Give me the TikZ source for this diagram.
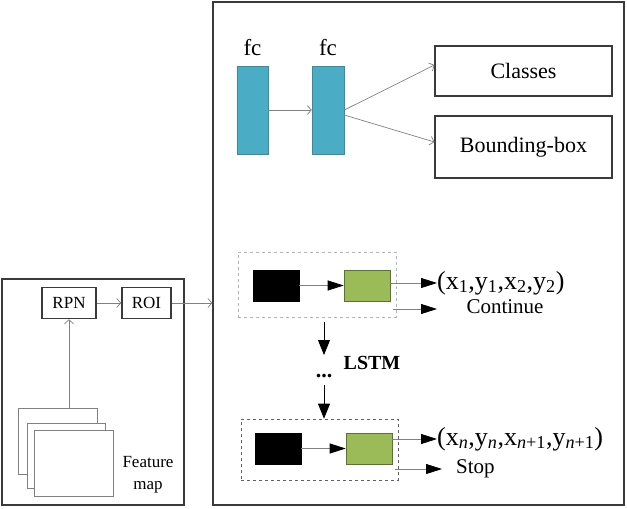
\documentclass[tikz,border=0pt]{standalone}
\usepackage{fontspec}
\setmainfont{Liberation Serif}
\usetikzlibrary{arrows.meta}
\definecolor{fcblue}{HTML}{4BACC6}
\definecolor{lgreen}{HTML}{9BBB59}
\definecolor{lin}{HTML}{808080}
\definecolor{frame}{HTML}{3A3A3A}
\begin{document}
\begin{tikzpicture}[x=1pt,y=-1pt,
  bigframe/.style={draw=frame, line width=1.3pt, inner sep=0pt},
  smallbox/.style={draw=frame, line width=1.6pt, inner sep=0pt, font=\fontsize{17}{19}\selectfont},
  outbox/.style={draw=frame, line width=1.1pt, inner sep=0pt, font=\fontsize{22}{24}\selectfont},
  sheet/.style={draw=lin, fill=white, line width=0.8pt, inner sep=0pt},
  fcbar/.style={draw=fcblue!80!black, fill=fcblue, line width=0.5pt, inner sep=0pt, minimum width=31pt, minimum height=88pt},
  blk/.style={fill=black, draw=black, inner sep=0pt, minimum width=46pt, minimum height=31pt},
  grn/.style={fill=lgreen, draw=lgreen!60!black, line width=0.6pt, inner sep=0pt, minimum width=46pt, minimum height=31pt},
  thinarrow/.style={draw=lin, line width=0.7pt, -{Straight Barb[length=4pt,width=9pt,line width=0.7pt]}},
  triarrow/.style={draw=lin, line width=0.8pt, -{Triangle[length=16pt,width=10pt,black]}},
  blkarrow/.style={draw=black, line width=0.8pt, -{Triangle[length=15pt,width=12pt]}},
  lbl/.style={inner sep=0pt, font=\fontsize{21}{23}\selectfont},
  tuple/.style={inner sep=0pt, anchor=west, font=\fontsize{26}{28}\selectfont}
]
\useasboundingbox (0,0) rectangle (627,509);

% outer frames
\node[bigframe, minimum width=182pt, minimum height=226pt] (lbox) at (93,392) {};
\node[bigframe, minimum width=411pt, minimum height=503pt] (rbox) at (418.5,253.5) {};

% left part
\node[smallbox, minimum width=54pt, minimum height=31pt] (rpn) at (69,303) {RPN};
\node[smallbox, minimum width=49pt, minimum height=31pt] (roi) at (146.5,303) {ROI};
\node[sheet, minimum width=79pt, minimum height=66pt] (s1) at (57.5,441) {};
\node[sheet, minimum width=78pt, minimum height=65pt] (s2) at (66,455.5) {};
\node[sheet, minimum width=79pt, minimum height=65.5pt] (s3) at (73.5,463.25) {};
\node[inner sep=0pt, align=center, font=\fontsize{17}{22}\selectfont] (fmap) at (148,475) {Feature\\map};

\draw[thinarrow] (s1.north -| rpn.south) -- (rpn.south);
\draw[thinarrow] (rpn.east) -- (roi.east -| roi.west);
\draw[thinarrow] (roi.east) -- (roi.east -| rbox.west);

% top right part
\node[fcbar] (fc1) at (252.5,110) {};
\node[fcbar, minimum width=32pt] (fc2) at (328,110) {};
\node[lbl, font=\fontsize{23}{25}\selectfont] (fcl1) at (252.5,48) {fc};
\node[lbl, font=\fontsize{23}{25}\selectfont] (fcl2) at (328,48) {fc};
\node[outbox, minimum width=177pt, minimum height=50pt] (cls) at (523.5,71) {Classes};
\node[outbox, minimum width=177pt, minimum height=62pt] (bbox) at (523.5,147) {Bounding-box};

\draw[thinarrow] (fc1.east) -- (fc2.west);
\draw[thinarrow] (fc2.east) -- ([yshift=6pt]cls.west);
\draw[thinarrow] ([yshift=-5pt]fc2.east) -- ([yshift=5pt]bbox.west);

% LSTM step 1
\node[draw=lin!60, dashed, line width=0.7pt, minimum width=158pt, minimum height=65pt, inner sep=0pt] (db1) at (317,284.5) {};
\node[blk] (b1) at (276,285.5) {};
\node[grn] (g1) at (367,285.5) {};
\node[tuple] (t1) at (437,283) {(x\textsubscript{1},y\textsubscript{1},x\textsubscript{2},y\textsubscript{2})};
\node[lbl] (cont) at (505,307) {Continue};
\coordinate (c1s) at (393,309);
\coordinate (c1e) at (437,309);
\draw[triarrow] (b1.east) -- (g1.west);
\draw[triarrow] ([yshift=2.5pt]g1.east) -- (t1.west);
\draw[triarrow] (c1s) -- (c1e);

% LSTM label and down arrows
\coordinate (d1s) at (324,322);
\coordinate (d1e) at (324,355);
\node[inner sep=0pt, font=\bfseries\fontsize{20}{22}\selectfont] (lstm) at (372,363) {LSTM};
\node[inner sep=0pt, font=\bfseries\fontsize{22}{24}\selectfont] (dots) at (324,376) {...};
\coordinate (d2s) at (324,385);
\draw[blkarrow] (d1s) -- (d1e);

% LSTM step n
\node[draw=frame!80, dashed, line width=0.7pt, minimum width=157pt, minimum height=61pt, inner sep=0pt] (db2) at (319.5,449.5) {};
\node[blk] (b2) at (278,448.5) {};
\node[grn] (g2) at (369,448.5) {};
\node[tuple] (t2) at (437,439) {(x\textsubscript{\textit{n}},y\textsubscript{\textit{n}},x\textsubscript{\textit{n}+1},y\textsubscript{\textit{n}+1})};
\node[lbl, anchor=west] (stop) at (456,469) {Stop};
\coordinate (c2s) at (395,469);
\coordinate (c2e) at (442,469);
\draw[blkarrow] (d2s) -- (d2s |- db2.north);
\draw[triarrow] (b2.east) -- (g2.west);
\draw[triarrow] ([yshift=9.5pt]g2.east) -- (t2.west);
\draw[triarrow] (c2s) -- (c2e);
\end{tikzpicture}
\end{document}
